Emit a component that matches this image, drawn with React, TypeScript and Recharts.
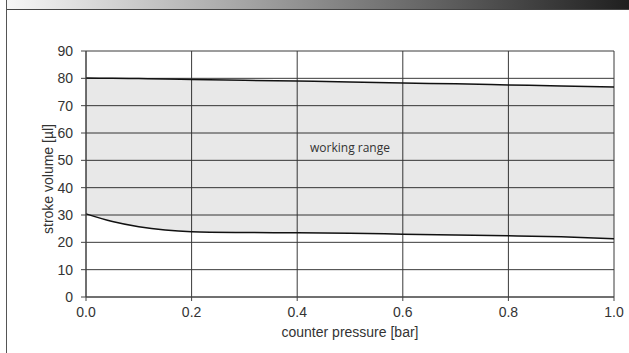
import {
  Area,
  CartesianGrid,
  ComposedChart,
  Line,
  ReferenceDot,
  XAxis,
  YAxis,
} from "recharts"

const pressure = [0, 0.05, 0.1, 0.15, 0.2, 0.3, 0.4, 0.5, 0.6, 0.7, 0.8, 0.9, 1.0]
const upperVolume = [80.1, 80.0, 79.9, 79.8, 79.6, 79.3, 79.0, 78.7, 78.3, 78.0, 77.6, 77.2, 76.8]
const lowerVolume = [30.4, 27.6, 25.7, 24.5, 23.9, 23.6, 23.5, 23.3, 23.0, 22.7, 22.4, 22.0, 21.3]
const xTicks = [0, 0.2, 0.4, 0.6, 0.8, 1.0]
const yTicks = [0, 10, 20, 30, 40, 50, 60, 70, 80, 90]

const chartData = pressure.map((p, i) => ({
  pressure: p,
  upper: upperVolume[i],
  lower: lowerVolume[i],
  range: [lowerVolume[i], upperVolume[i]],
}))

const font = "Liberation Sans, Arial, sans-serif"

export default function App() {
  return (
    <div
      style={{
        position: "absolute",
        left: 0,
        top: 0,
        width: 629,
        height: 353,
        background: "#fff",
        fontFamily: font,
      }}
    >
      <div
        style={{
          position: "absolute",
          left: 7,
          top: 0,
          width: 622,
          height: 9,
          background: "linear-gradient(to right, #f7f7f7, #1f1f1f)",
          borderBottom: "1px solid #444",
        }}
      />
      <div style={{ position: "absolute", left: 6, top: 0, width: 1, height: 353, background: "#555" }} />
      <div style={{ position: "absolute", left: 0, top: 0 }}>
        <ComposedChart
          width={629}
          height={353}
          data={chartData}
          margin={{ top: 51, right: 15, left: 0, bottom: 26 }}
          style={{ fontFamily: font }}
        >
          <CartesianGrid stroke="#3a3a3a" strokeWidth={1} />
          <Area
            dataKey="range"
            type="monotone"
            fill="#000"
            fillOpacity={0.09}
            stroke="none"
            isAnimationActive={false}
          />
          <XAxis
            dataKey="pressure"
            type="number"
            domain={[0, 1]}
            ticks={xTicks}
            tickFormatter={(v: number) => v.toFixed(1)}
            tick={{ fill: "#333" }}
            fontSize={14}
            fontFamily={font}
            tickSize={4}
            tickMargin={6}
            stroke="#444"
            height={30}
            label={{
              value: "counter pressure [bar]",
              position: "bottom",
              offset: 0,
              fontSize: 14,
              fill: "#333",
              fontFamily: font,
            }}
          />
          <YAxis
            type="number"
            domain={[0, 90]}
            ticks={yTicks}
            tick={{ fill: "#333" }}
            fontSize={14}
            fontFamily={font}
            tickSize={5}
            tickMargin={8}
            stroke="#444"
            width={86}
            label={(props: any) => {
              const vb = props.viewBox || { x: 0, y: 51, height: 246 }
              const cx = vb.x + 48
              const cy = vb.y + vb.height / 2 + 5
              return (
                <text
                  x={cx}
                  y={cy}
                  transform={`rotate(-90 ${cx} ${cy})`}
                  textAnchor="middle"
                  dominantBaseline="central"
                  fontSize={14}
                  fill="#333"
                  fontFamily={font}
                >
                  stroke volume [µl]
                </text>
              )
            }}
          />
          <Line
            dataKey="upper"
            type="monotone"
            stroke="#111"
            strokeWidth={1.5}
            dot={false}
            isAnimationActive={false}
          />
          <Line
            dataKey="lower"
            type="monotone"
            stroke="#111"
            strokeWidth={1.5}
            dot={false}
            isAnimationActive={false}
          />
          <ReferenceDot
            x={0.5}
            y={54.5}
            r={0}
            fill="none"
            stroke="none"
            label={{
              value: "working range",
              position: "center",
              fontSize: 12,
              fill: "#333",
              fontFamily: "Open Sans, sans-serif",
            }}
          />
        </ComposedChart>
      </div>
    </div>
  )
}
